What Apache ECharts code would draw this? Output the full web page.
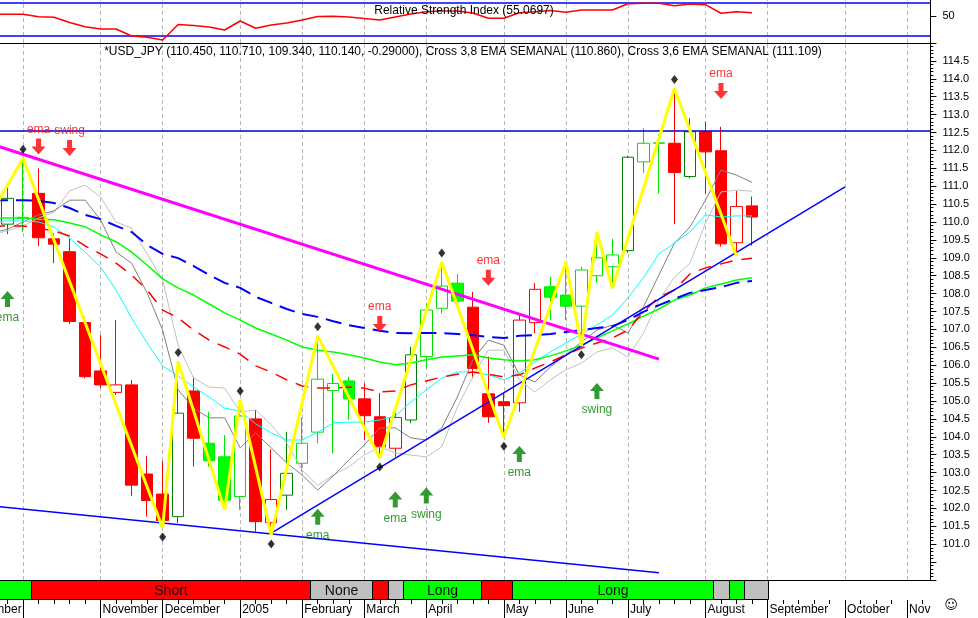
<!DOCTYPE html>
<html>
<head>
<meta charset="utf-8">
<script src="https://cdn.jsdelivr.net/npm/echarts@6.0.0/dist/echarts.min.js"></script>
<style>
html,body{margin:0;padding:0;background:#ffffff;}
#chart{width:978px;height:618px;}
</style>
</head>
<body>
<div id="chart"></div>
<script>
// ---------- DATA ----------
// weekly categories (week ending Friday)
const weeks = [
 '2004-09-03','2004-09-10','2004-09-17','2004-09-24','2004-10-01','2004-10-08','2004-10-15','2004-10-22','2004-10-29',
 '2004-11-05','2004-11-12','2004-11-19','2004-11-26','2004-12-03','2004-12-10','2004-12-17','2004-12-24','2004-12-31',
 '2005-01-07','2005-01-14','2005-01-21','2005-01-28','2005-02-04','2005-02-11','2005-02-18','2005-02-25',
 '2005-03-04','2005-03-11','2005-03-18','2005-03-25','2005-04-01','2005-04-08','2005-04-15','2005-04-22','2005-04-29',
 '2005-05-06','2005-05-13','2005-05-20','2005-05-27','2005-06-03','2005-06-10','2005-06-17','2005-06-24',
 '2005-07-01','2005-07-08','2005-07-15','2005-07-22','2005-07-29','2005-08-05','2005-08-12','2005-08-19','2005-08-26',
 '2005-09-02','2005-09-09','2005-09-16','2005-09-23','2005-09-30','2005-10-07','2005-10-14','2005-10-21','2005-10-28',
 '2005-11-04','2005-11-11'
];
// month ticks on the time axis (index into weeks) and their labels
const monthIdx    = [0, 4, 9, 13, 18, 22, 26, 30, 35, 39, 43, 48, 52, 57, 61];
const monthLabels = ['September','','November','December','2005','February','March','April','May','June','July','August','September','October','Nov'];

// candles: first candle sits at weeks[3]; values [open, high, low, close]
const firstCandle = 3;
const ohlc = [
 [109.94,110.99,109.66,110.66],[110.10,111.78,109.72,110.13],[110.80,111.50,109.33,109.56],[109.53,109.68,108.85,109.38],
 [109.17,109.54,107.15,107.22],[107.19,107.35,105.63,105.68],[105.84,106.84,105.36,105.45],[105.24,107.26,105.17,105.45],
 [105.45,105.59,102.35,102.65],[102.96,103.46,101.77,102.22],[102.40,103.32,101.45,101.66],[101.77,106.10,101.59,104.66],
 [105.28,105.68,103.17,103.96],[103.82,104.70,103.17,103.33],[103.44,104.05,101.96,102.23],[102.33,105.03,101.96,104.58],
 [104.50,104.75,101.35,101.63],[101.60,103.65,101.26,102.25],[102.37,104.14,101.96,102.98],[103.26,104.54,103.03,103.82],
 [104.13,106.82,103.82,105.61],[105.29,105.75,103.54,105.49],[105.56,105.68,104.47,105.06],[105.06,105.49,103.91,104.59],
 [104.56,105.22,103.41,103.72],[103.68,104.89,103.44,104.54],[104.47,106.52,104.38,106.29],[106.24,107.73,105.91,107.54],
 [107.59,108.88,107.45,108.21],[108.29,108.55,107.62,107.79],[107.62,108.05,105.63,105.91],[105.20,106.24,104.39,104.56],
 [104.98,105.22,103.99,104.87],[104.95,107.40,104.70,107.26],[107.19,108.29,106.90,108.12],[108.19,108.47,107.26,107.90],
 [107.96,108.88,107.26,107.65],[107.65,108.75,106.54,108.66],[108.50,109.72,108.30,109.00],[108.75,109.53,108.15,109.08],
 [109.20,111.85,109.14,111.81],[111.68,112.62,111.38,112.20],[112.20,112.46,110.80,112.21],[112.20,113.73,109.94,111.38],
 [111.27,112.90,111.22,112.52],[112.52,112.80,110.80,111.96],[111.99,112.66,109.31,109.39],[109.42,110.87,109.05,110.43],
 [110.45,110.71,109.34,110.14]
];
// candle kind: R red filled, r red hollow, G green filled, g green hollow, d dark green hollow
const candleKind = 'dgRRRRRrRRRdRGGgRrdgggGRRrdggGRRRrrGGgggdggRdRRrR';

// indicator lines: first value sits at weeks[2]
const lineStart = 2;
const emaSlow = [110.61,110.61,110.61,110.59,110.53,110.39,110.20,110.08,109.89,109.72,109.36,109.11,108.99,108.77,108.52,108.30,
 108.16,107.91,107.74,107.57,107.43,107.35,107.23,107.12,107.04,106.96,106.90,106.89,106.90,106.90,106.87,106.84,106.79,106.76,
 106.82,106.84,106.87,106.93,106.98,107.04,107.09,107.26,107.49,107.68,107.85,108.02,108.10,108.18,108.30,108.35];
const emaMid = [110.11,110.11,110.11,110.08,110.06,109.97,109.87,109.64,109.45,109.16,108.80,108.41,108.16,107.96,107.71,107.46,
 107.26,107.04,106.87,106.70,106.51,106.42,106.37,106.29,106.20,106.09,106.01,106.06,106.15,106.23,106.26,106.29,106.20,106.15,
 106.12,106.15,106.26,106.40,106.56,106.76,106.96,107.15,107.37,107.57,107.82,107.96,108.16,108.27,108.38,108.44];
const emaRed = [109.89,109.89,109.89,109.83,109.75,109.61,109.33,109.11,108.85,108.52,108.10,107.54,107.32,106.98,106.70,106.51,
 106.31,105.98,105.81,105.59,105.42,105.36,105.36,105.39,105.36,105.25,105.28,105.45,105.56,105.67,105.75,105.81,105.75,105.67,
 105.73,105.92,106.09,106.29,106.48,106.62,106.76,106.98,107.49,107.91,108.10,108.55,108.72,108.83,108.94,108.99];
const emaFast = [110.00,110.03,110.03,110.00,109.86,109.55,109.16,108.74,108.10,107.32,106.62,105.98,105.70,105.39,105.11,104.80,
 104.72,104.36,104.11,103.91,103.91,104.13,104.39,104.41,104.41,104.47,104.58,104.97,105.31,105.64,105.81,105.81,105.73,105.59,
 105.78,106.09,106.37,106.62,106.87,107.12,107.40,107.88,108.44,109.11,109.41,109.72,110.20,110.14,110.17,110.17];
const cross36 = [109.69,109.80,110.00,110.20,110.31,110.61,110.61,110.06,109.16,108.85,108.02,106.98,105.31,104.80,104.53,104.53,
 103.69,104.11,103.69,103.27,102.93,102.51,102.91,103.35,103.77,104.25,104.25,103.97,103.91,104.25,105.11,106.15,106.70,106.56,
 105.73,105.53,105.95,106.29,106.65,106.98,107.12,106.90,107.63,108.52,109.41,109.86,110.61,111.45,111.31,111.109];
const cross38 = [109.66,109.75,109.89,110.11,110.28,110.87,111.03,110.70,110.00,109.83,109.11,108.38,106.56,105.64,105.39,105.36,
 104.69,104.75,104.33,103.83,103.07,102.65,102.93,103.16,103.49,103.72,103.55,103.49,103.44,103.72,104.83,105.67,106.42,106.42,
 105.59,105.25,105.59,105.87,106.06,106.37,106.48,106.23,106.90,107.82,108.46,108.85,109.97,110.84,110.89,110.86];
const rsi = [52.6,52.6,52.6,48.9,48.0,40.0,33.5,30.0,30.0,19.2,17.4,13.1,36.9,35.4,33.1,28.5,42.3,31.1,36.2,39.2,43.8,49.2,49.5,
 48.5,46.2,43.8,48.5,53.1,56.6,57.7,57.7,54.6,46.5,46.5,55.1,56.6,58.5,55.7,59.2,59.2,59.2,68.9,69.5,69.5,65.8,68.5,67.4,54.2,56.6,55.0697];
const rsiLevels = [70, 20];

// swing zigzag [week index, price]
const zigzag = [[2,110.28],[4,111.78],[13,101.45],[14,106.10],[17,101.96],[18,105.03],[20,101.26],[23,106.82],[27,103.41],
 [31,108.88],[35,103.99],[39,108.88],[40,106.54],[41,109.72],[42,108.15],[46,113.73],[50,109.05]];
const swingHighMarks = [4,14,18,23,31,46];
const swingLowMarks  = [13,20,27,35,40];

// trend lines [week index, price]
const magentaTrend = [[2,112.17],[45,106.17]];
const risingTrend  = [[20,101.31],[57,110.98]];
const lowerTrend   = [[2,102.07],[45,100.20]];
const resistance   = 112.54;

// signals [week index, price, text]
const sellSignals = [[5,112.11,'ema'],[7,112.07,'swing'],[27,107.15,'ema'],[34,108.44,'ema'],[49,113.66,'ema']];
const buySignals  = [[3,107.85,'ema'],[23,101.77,'ema'],[28,102.25,'ema'],[30,102.36,'swing'],[36,103.52,'ema'],[41,105.28,'swing']];

// position strip [from week, to week, state, text]
const strip = [[0,4,'long',''],[5,22,'short','Short'],[23,26,'none','None'],[27,27,'short',''],[28,28,'none',''],
 [29,33,'long','Long'],[34,35,'short',''],[36,48,'long','Long'],[49,49,'none',''],[50,50,'long',''],[51,52,'none','']];

// ---------- CHART ----------
const FONT = "'Liberation Sans', Arial, sans-serif";
const NARROW = "'Liberation Sans Narrow', 'Liberation Sans', Arial, sans-serif";
const GL = -46.755, GW = 977.13;
const lastCandleIdx = firstCandle + ohlc.length - 1;
const monthSet = new Set(monthIdx);
const monthLabelOf = {}; monthIdx.forEach((k, i) => monthLabelOf[k] = monthLabels[i]);
const toPairs = (arr, start) => arr.map((v, i) => [start + i, v]);

const kindStyle = {
  R: {fill: '#ff0000', border: '#ff0000'},
  r: {fill: '#ffffff', border: '#ff0000'},
  G: {fill: '#00ff00', border: '#00e800'},
  g: {fill: '#ffffff', border: '#00e000'},
  d: {fill: '#ffffff', border: '#008000'}
};
const candleData = ohlc.map((c, i) => {
  const s = kindStyle[candleKind[i]];
  return {value: [firstCandle + i, c[0], c[3], c[2], c[1]],
          itemStyle: {color: s.fill, color0: s.fill, borderColor: s.border, borderColor0: s.border, borderWidth: 1}};
});
const zz = {}; zigzag.forEach(p => zz[p[0]] = p[1]);
const diamonds = swingHighMarks.map(k => ({value: [k, zz[k]], symbolOffset: [0, -9]}))
  .concat(swingLowMarks.map(k => ({value: [k, zz[k]], symbolOffset: [0, 9]})));

const gridLineStyle = {color: '#b8b8b8', type: [4, 3], width: 1};
const monthMarks = monthIdx.map(k => ({xAxis: k}));

const last = ohlc[ohlc.length - 1], prev = ohlc[ohlc.length - 2];
const header = '*USD_JPY (' + last.map(v => v.toFixed(3)).join(', ') + ', ' + (last[3] - prev[3]).toFixed(5) +
  '), Cross 3,8 EMA SEMANAL (' + cross38[cross38.length - 1].toFixed(3) + '), Cross 3,6 EMA SEMANAL (' +
  cross36[cross36.length - 1].toFixed(3) + ')';
const rsiTitle = 'Relative Strength Index (' + rsi[rsi.length - 1].toFixed(4) + ')';

const stripColor = {long: '#00ff00', short: '#ff0000', none: '#c0c0c0'};
const downArrow = 'path://M4.5,0 L9.5,0 L9.5,8 L14,8 L7,16 L0,8 L4.5,8 Z';
const upArrow = 'path://M7,0 L14,8 L9.5,8 L9.5,16 L4.5,16 L4.5,8 L0,8 Z';

const lineSeries = (data, color, width, type, z) => ({
  type: 'line', xAxisIndex: 1, yAxisIndex: 1, data, symbol: 'none', silent: true, z,
  lineStyle: {color, width, type: type || 'solid'}
});

const gridBase = {left: GL, width: GW, containLabel: false, outerBoundsMode: 'none'};
const option = {
  animation: false,
  backgroundColor: '#ffffff',
  grid: [
    Object.assign({top: 0, height: 43}, gridBase),
    Object.assign({top: 43, height: 537}, gridBase),
    Object.assign({top: 580, height: 20}, gridBase)
  ],
  xAxis: [
    {type: 'category', gridIndex: 0, data: weeks, boundaryGap: true,
     axisLine: {show: true, lineStyle: {color: '#000'}}, axisTick: {show: false}, axisLabel: {show: false}, splitLine: {show: false}},
    {type: 'category', gridIndex: 1, data: weeks, boundaryGap: true,
     axisLine: {show: true, lineStyle: {color: '#000'}}, axisTick: {show: false}, axisLabel: {show: false}, splitLine: {show: false}},
    {type: 'category', gridIndex: 2, data: weeks, boundaryGap: true, position: 'bottom',
     axisLine: {show: false}, axisTick: {show: true, interval: 0, alignWithLabel: true, length: 4, lineStyle: {color: '#000'}},
     axisLabel: {show: false}, splitLine: {show: false}},
    {type: 'category', gridIndex: 2, data: weeks, boundaryGap: true, position: 'bottom', offset: 0,
     axisLine: {show: false},
     axisTick: {show: true, alignWithLabel: true, interval: (i) => monthSet.has(i), length: 18, lineStyle: {color: '#000'}},
     axisLabel: {show: true, interval: (i) => monthSet.has(i), formatter: (v, i) => monthLabelOf[i] || '',
                 align: 'left', margin: 4, padding: [0, 0, 0, 2], color: '#000', fontSize: 12, fontFamily: FONT},
     splitLine: {show: false}}
  ],
  yAxis: [
    {type: 'value', gridIndex: 0, position: 'right', min: 8.5, max: 74.6,
     axisLine: {show: true, lineStyle: {color: '#000'}},
     axisTick: {show: true, customValues: [50], length: 6, lineStyle: {color: '#000'}},
     axisLabel: {show: true, customValues: [50], margin: 12, color: '#000', fontSize: 11, fontFamily: NARROW},
     splitLine: {show: false}},
    {type: 'value', gridIndex: 1, position: 'right', min: 100, max: 115, interval: 0.5,
     axisLine: {show: true, lineStyle: {color: '#000'}},
     axisTick: {show: true, length: 6, lineStyle: {color: '#000'}},
     minorTick: {show: true, splitNumber: 5, length: 3, lineStyle: {color: '#000'}},
     axisLabel: {show: true, margin: 12, color: '#000', fontSize: 11, fontFamily: NARROW,
                 formatter: (v) => (v < 100.99 || v > 114.51) ? '' : v.toFixed(1)},
     splitLine: {show: false}, minorSplitLine: {show: false}},
    {type: 'value', gridIndex: 2, min: 0, max: 1, show: false}
  ],
  graphic: [
    {type: 'text', x: 464, y: 11, z: 50, style: {text: rsiTitle, align: 'center', verticalAlign: 'middle', font: '12px ' + FONT, fill: '#000'}},
    {type: 'text', x: 463, y: 52, z: 50, style: {text: header, align: 'center', verticalAlign: 'middle', font: '12px ' + FONT, fill: '#000'}},
    {type: 'text', x: 951, y: 606, z: 50, style: {text: '\u263A', align: 'center', verticalAlign: 'middle', font: '13px DejaVu Sans', fill: '#000'}}
  ],
  series: [
    // RSI
    {type: 'line', xAxisIndex: 0, yAxisIndex: 0, data: toPairs(rsi, lineStart), symbol: 'none', silent: true, z: 3,
     lineStyle: {color: '#ff0000', width: 1.5},
     markLine: {silent: true, symbol: ['none', 'none'], z: 1, label: {show: false}, lineStyle: gridLineStyle,
       data: monthMarks.concat(rsiLevels.map(v => ({yAxis: v, lineStyle: {color: '#0000ff', type: 'solid', width: 1.5}})))}},
    // candles
    {type: 'candlestick', xAxisIndex: 1, yAxisIndex: 1, data: candleData, encode: {x: 0, y: [1, 2, 3, 4]},
     barWidth: 12, silent: true, z: 2,
     markLine: {silent: true, symbol: ['none', 'none'], z: 1, label: {show: false}, lineStyle: gridLineStyle, data: monthMarks}},
    lineSeries(toPairs(cross38, lineStart), '#c0c0c0', 1, 'solid', 3),
    lineSeries(toPairs(cross36, lineStart), '#808080', 1, 'solid', 3),
    lineSeries(toPairs(emaFast, lineStart), '#00ffff', 1, 'solid', 3),
    lineSeries(toPairs(emaMid, lineStart), '#00ff00', 1.5, 'solid', 3),
    lineSeries(toPairs(emaRed, lineStart), '#ff0000', 1.5, [13, 9], 3),
    lineSeries(toPairs(emaSlow, lineStart), '#0000ff', 2, [16, 8], 3),
    Object.assign(lineSeries(lowerTrend, '#0000ff', 1.5, 'solid', 4), {
      markLine: {silent: true, symbol: ['none', 'none'], label: {show: false},
                 lineStyle: {color: '#0000cc', type: 'solid', width: 1.5}, data: [{yAxis: resistance}]}}),
    lineSeries(risingTrend, '#0000ff', 1.5, 'solid', 4),
    lineSeries(magentaTrend, '#ff00ff', 3, 'solid', 4),
    lineSeries(zigzag, '#ffff00', 3, 'solid', 5),
    {type: 'scatter', xAxisIndex: 1, yAxisIndex: 1, data: diamonds, symbol: 'diamond', symbolSize: [7, 9], silent: true, z: 6,
     itemStyle: {color: '#000'}},
    {type: 'scatter', xAxisIndex: 1, yAxisIndex: 1, silent: true, z: 7,
     data: sellSignals.map(s => ({value: [s[0], s[1]], name: s[2]})),
     symbol: downArrow, symbolSize: [14, 16], itemStyle: {color: '#ff0000'},
     label: {show: true, position: 'top', distance: 3, formatter: (p) => p.name, color: '#ff0000', fontSize: 12, fontFamily: FONT}},
    {type: 'scatter', xAxisIndex: 1, yAxisIndex: 1, silent: true, z: 7,
     data: buySignals.map(s => ({value: [s[0], s[1]], name: s[2]})),
     symbol: upArrow, symbolSize: [14, 16], itemStyle: {color: '#008000'},
     label: {show: true, position: 'bottom', distance: 5, formatter: (p) => p.name, color: '#008000', fontSize: 12, fontFamily: FONT}},
    // position strip
    {type: 'custom', xAxisIndex: 2, yAxisIndex: 2, silent: true, z: 4,
     data: strip.map(s => [s[0], s[1]]),
     renderItem: (params, api) => {
       const seg = strip[params.dataIndex];
       const a = api.coord([seg[0], 1]);
       const b = api.coord([seg[1], 0]);
       const w = api.size([1, 0])[0];
       // the open (current) state runs up to the centre of the next, still empty, week
       const endX = seg[1] > lastCandleIdx ? b[0] : b[0] + w / 2;
       const x0 = Math.round(a[0] - w / 2) + 0.5, x1 = Math.round(endX) + 0.5;
       const y0 = Math.round(a[1]) + 0.5, y1 = Math.round(b[1]) - 0.5;
       return {type: 'group', children: [
         {type: 'rect', shape: {x: x0, y: y0, width: x1 - x0, height: y1 - y0},
          style: {fill: stripColor[seg[2]], stroke: '#000', lineWidth: 1}},
         {type: 'text', style: {text: seg[3], x: (x0 + x1) / 2, y: (y0 + y1) / 2 + 1, align: 'center', verticalAlign: 'middle',
          font: '14px ' + FONT, fill: '#111'}}
       ]};
     }}
  ]
};

const chart = echarts.init(document.getElementById('chart'), null, {renderer: 'canvas'});
chart.setOption(option);
</script>
</body>
</html>
